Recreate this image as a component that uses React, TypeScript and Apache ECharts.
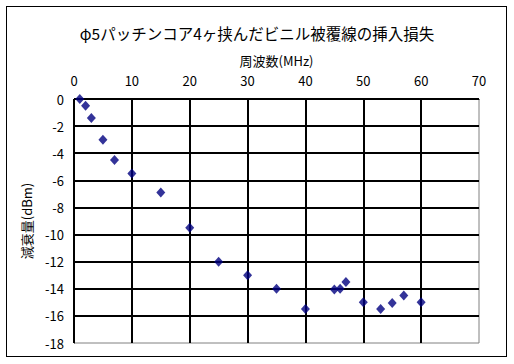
import React, { useEffect, useRef } from "react";
import * as echarts from "echarts";

const freqMHz = [1, 2, 3, 5, 7, 10, 15, 20, 25, 30, 35, 40, 45, 46, 47, 50, 53, 55, 57, 60];
const lossDbm = [0, -0.5, -1.4, -3, -4.5, -5.5, -6.9, -9.5, -12, -13, -14, -15.5, -14.05, -14, -13.5, -15, -15.5, -15.05, -14.5, -15];

const titleText = "φ5パッチンコア4ヶ挟んだビニル被覆線の挿入損失";
const xName = "周波数(MHz)";
const yName = "減衰量(dBm)";

const FONT = "'Noto Sans CJK JP', sans-serif";

export default function App() {
  const ref = useRef<HTMLDivElement>(null);
  useEffect(() => {
    if (!ref.current) return;
    const chart = echarts.init(ref.current, undefined, { renderer: "svg" });
    const data = freqMHz.map((x, i) => [x, lossDbm[i]]);
    chart.setOption({
      animation: false,
      title: {
        text: titleText,
        left: "center",
        top: 20,
        textStyle: { fontFamily: FONT, fontSize: 15.5, fontWeight: "normal", color: "#000" },
      },
      grid: {
        left: 74,
        right: 35,
        top: 99,
        bottom: 21,
        show: true,
        borderColor: "#808080",
        borderWidth: 1,
      },
      xAxis: {
        type: "value",
        position: "top",
        min: 0,
        max: 70,
        interval: 10,
        name: xName,
        nameLocation: "middle",
        nameGap: 32,
        nameTextStyle: { fontFamily: FONT, fontSize: 13, color: "#000" },
        axisLine: { show: true, onZero: false, lineStyle: { color: "#000", width: 1 } },
        axisTick: { show: false },
        axisLabel: { fontFamily: FONT, fontSize: 13, color: "#000", margin: 12 },
        splitLine: { show: true, showMaxLine: false, lineStyle: { color: "#000", width: 2 } },
      },
      yAxis: {
        type: "value",
        min: -18,
        max: 0,
        interval: 2,
        name: yName,
        nameLocation: "middle",
        nameRotate: 90,
        nameGap: 41,
        nameTextStyle: { fontFamily: FONT, fontSize: 13, color: "#000000" },
        axisLine: { show: true, onZero: false, lineStyle: { color: "#000", width: 1 } },
        axisTick: { show: false },
        axisLabel: { fontFamily: FONT, fontSize: 13, color: "#000", margin: 10 },
        splitLine: { show: true, showMinLine: false, lineStyle: { color: "#000", width: 2 } },
      },
      series: [
        {
          type: "scatter",
          data,
          symbol: "diamond",
          symbolSize: [9, 10],
          itemStyle: { color: "#000080" },
        },
      ],
    });
    return () => chart.dispose();
  }, []);
  return (
    <div style={{ position: "absolute", left: 0, top: 0, width: 514, height: 364, background: "#fff" }}>
      <div
        style={{
          position: "absolute",
          left: 6,
          top: 6,
          width: 499,
          height: 349,
          border: "1px solid #000",
        }}
      />
      <div
        ref={ref}
        style={{ position: "absolute", left: 0, top: 0, width: 514, height: 364 }}
      />
    </div>
  );
}
